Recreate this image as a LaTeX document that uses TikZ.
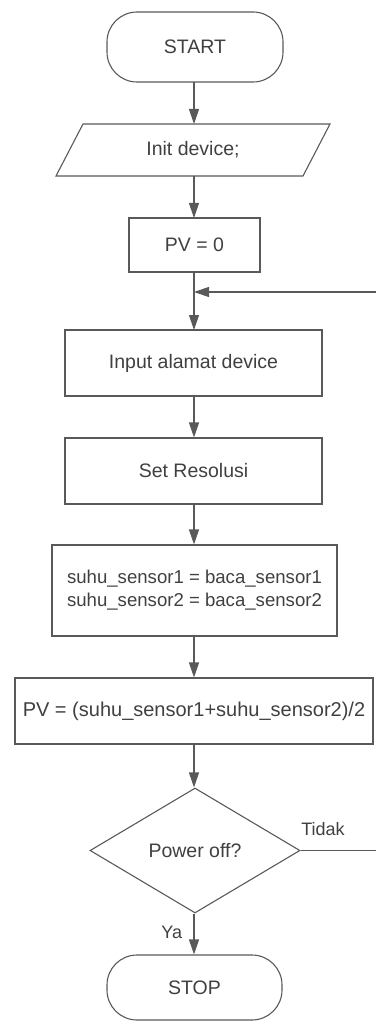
\documentclass[tikz,border=0pt]{standalone}
\usepackage{fontspec}
\setmainfont{Liberation Sans}
\usetikzlibrary{shapes.geometric,arrows.meta}
\begin{document}
\begin{tikzpicture}[x=1pt,y=-1pt,
  every node/.style={font=\fontsize{19.5}{23}\selectfont, text=black!75},
  line/.style={draw=black!65, line width=1.1pt},
  arr/.style={line, -{Triangle[length=15pt,width=10pt]}},
  box/.style={line, rectangle, inner sep=0pt},
  term/.style={line, rectangle, rounded corners=30pt, inner sep=0pt},
  lbl/.style={font=\fontsize{18}{21}\selectfont, text=black!75}]
\useasboundingbox (0,0) rectangle (375,1024);
\node[term, minimum width=176pt, minimum height=70pt] (start) at (195,47) {START};
\node[inner sep=0pt, minimum width=247pt, minimum height=52pt] (init) at (193,150) {Init device;};
\draw[line] (83,124) -- (330,124) -- (303,176) -- (56,176) -- cycle;
\node[box, minimum width=131pt, minimum height=54pt] (pv0) at (194.5,245) {PV = 0};
\node[box, minimum width=257pt, minimum height=66pt] (input) at (193.5,363) {Input alamat device};
\node[box, minimum width=257pt, minimum height=66pt] (setres) at (193.5,471) {Set Resolusi};
\node[box, minimum width=285pt, minimum height=91pt, align=left, font=\fontsize{18.6}{23}\selectfont] (sensor) at (194.5,590.5) {suhu\_sensor1 = baca\_sensor1\\suhu\_sensor2 = baca\_sensor2};
\node[box, minimum width=358pt, minimum height=66pt, font=\fontsize{20}{24}\selectfont] (pvavg) at (194,711) {PV = (suhu\_sensor1+suhu\_sensor2)/2};
\node[line, diamond, aspect=1.68, minimum width=210pt, minimum height=125pt, inner sep=0pt] (dec) at (195,850.5) {Power off?};
\node[term, minimum width=175pt, minimum height=65pt] (stop) at (194.5,987.5) {STOP};
\coordinate (join) at (194,292);
\coordinate (rb) at (377,850.5);
\coordinate (rt) at (377,292);
\draw[arr] (194,82) -- (194,124);
\draw[arr] (194,176) -- (194,218);
\draw[line] (194,272) -- (join);
\draw[arr] (join) -- (194,330);
\draw[arr] (input.south -| join) -- (setres.north -| join);
\draw[arr] (setres.south -| join) -- (sensor.north -| join);
\draw[arr] (sensor.south -| join) -- (pvavg.north -| join);
\draw[arr] (pvavg.south -| join) -- (dec.north -| join);
\draw[arr] (dec.south -| join) -- node[lbl, left, pos=0.45, xshift=-8pt] {Ya} (stop.north -| join);
\draw[line] (dec.east) -- (rb) -- (rt);
\draw[arr] (rt) -- (join);
\node[lbl] (tidak) at (323,829) {Tidak};
\end{tikzpicture}
\end{document}
